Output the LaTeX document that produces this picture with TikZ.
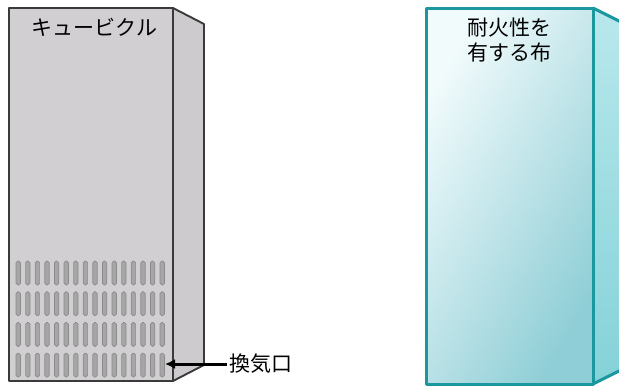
\documentclass[tikz,border=0pt]{standalone}
\usepackage{fontspec}
\newfontfamily\jpfont{Noto Sans CJK JP}
\usepackage{tikz}
\usetikzlibrary{positioning, arrows.meta}

\definecolor{cubgray}{HTML}{D1CFD1}
\definecolor{cubside}{HTML}{CDCBCD}
\definecolor{cubline}{HTML}{3A3A3A}
\definecolor{ventfill}{HTML}{A6A6A6}
\definecolor{ventline}{HTML}{8C8C8C}
\definecolor{clothline}{HTML}{1B979E}
\definecolor{clothlight}{HTML}{F2FBFC}
\definecolor{clothdark}{HTML}{8FCED6}
\definecolor{sidelight}{HTML}{B8E8EC}
\definecolor{sidedark}{HTML}{84D2D8}

\begin{document}
\begin{tikzpicture}[x=1pt, y=-1pt,
    label/.style={font=\jpfont\fontsize{21}{25.5}\selectfont, inner sep=0pt, align=center},
    vent/.style={fill=ventfill, draw=ventline, line width=0.7pt, rounded corners=1.8pt},
    cubedge/.style={draw=cubline, line width=1.9pt, line join=round},
    clothedge/.style={draw=clothline, line width=3pt, line join=round}]
    \useasboundingbox (0,0) rectangle (619,389);

    % cubicle: side face, then front face
    \filldraw[cubedge, fill=cubside] (173,8) -- (204,24) -- (204,365) -- (173,381) -- cycle;
    \filldraw[cubedge, fill=cubgray] (9,8) rectangle (173,381);
    \foreach \r in {0,...,3}
        \foreach \c in {0,...,15}
            \draw[vent] (16+\c*9.6, 261+\r*30.7) rectangle +(4.4,24);
    \node (cubicle) [label] at (94.5,27) {キュービクル};

    % fire resistant cloth
    \shade[top color=sidelight, bottom color=sidedark] (593,8) -- (625,24) -- (625,368) -- (593,384) -- cycle;
    \draw[clothedge] (593,8) -- (625,24) (593,384) -- (625,368);
    \shade[top color=clothlight, bottom color=clothdark, shading angle=60] (426,8) rectangle (593,384);
    \draw[clothedge] (426,8) rectangle (593,384);
    \node (cloth) [label] at (509,40) {耐火性を\\有する布};

    % vent label
    \coordinate (vent) at (165,364);
    \node (kanki) [label, anchor=west] at (229,364) {換気口};
    \draw[-{Latex[length=10pt, width=10pt]}, line width=3pt, shorten <=2pt] (kanki.west) -- (vent);
\end{tikzpicture}
\end{document}
